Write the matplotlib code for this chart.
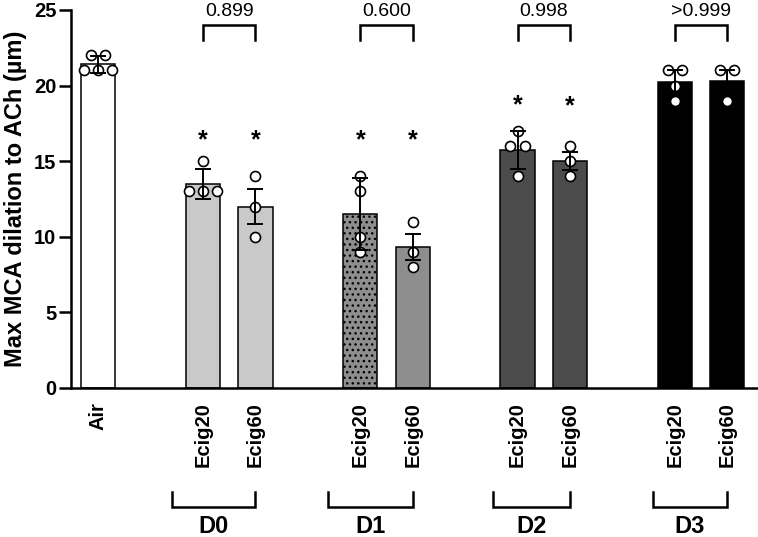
import matplotlib
matplotlib.use("Agg")
import matplotlib.pyplot as plt
import matplotlib.transforms as mtransforms
import numpy as np

plt.rcParams['font.family'] = ['Liberation Sans', 'DejaVu Sans']
plt.rcParams['hatch.linewidth'] = 1.0

# data
tick_labels = ["Air", "Ecig20", "Ecig60", "Ecig20", "Ecig60",
               "Ecig20", "Ecig60", "Ecig20", "Ecig60"]
x_pos = [0, 2, 3, 5, 6, 8, 9, 11, 12]
means = [21.4, 13.5, 12.0, 11.5, 9.33, 15.75, 15.0, 20.25, 20.33]
errs = [0.55, 1.0, 1.15, 2.38, 0.88, 1.27, 0.58, 0.77, 0.67]
points = [[22, 22, 21, 21, 21],
          [15, 13, 13, 13],
          [14, 12, 10],
          [14, 13, 10, 9],
          [11, 9, 8],
          [17, 16, 16, 14],
          [16, 15, 14],
          [21, 21, 20, 19],
          [21, 21, 19]]
bar_colors = ["white", "#c9c9c9", "#c9c9c9", "#8e8e8e", "#8e8e8e",
              "#4b4b4b", "#4b4b4b", "black", "black"]
bar_hatch = ["", "", "", "...", "", "", "", "", ""]

groups = ["D0", "D1", "D2", "D3"]
group_pairs = [(2, 3), (5, 6), (8, 9), (11, 12)]
group_left_pad = [0.59, 0.61, 0.47, 0.42]
p_values = ["0.899", "0.600", "0.998", ">0.999"]

star_x = [2, 3, 5, 6, 8, 9]
star_y = [16.4, 16.4, 16.4, 16.4, 18.7, 18.6]

fig = plt.figure(figsize=(7.58, 5.37), dpi=100)
ax = fig.add_axes([0.0937, 0.2775, 0.905, 0.704])

ax.bar(x_pos, means, width=0.65, color=bar_colors, edgecolor="black",
       linewidth=1.1, hatch=bar_hatch, zorder=1)

# scatter points, spread duplicates sideways
for xc, vals in zip(x_pos, points):
    xs, ys = [], []
    for v in sorted(set(vals), reverse=True):
        n = vals.count(v)
        offs = (np.arange(n) - (n - 1) / 2) * 0.27
        xs += list(xc + offs)
        ys += [v] * n
    ax.plot(xs, ys, 'o', ms=7.2, mfc="white", mec="black", mew=1.2,
            zorder=2, clip_on=False)

ax.errorbar(x_pos, means, yerr=errs, fmt="none", ecolor="black",
            elinewidth=1.4, capsize=6, capthick=1.4, zorder=3)

for sx, sy in zip(star_x, star_y):
    ax.text(sx, sy, "*", ha="center", va="center", fontsize=18,
            fontweight="bold")

# comparison brackets above each pair
for (a, b), p in zip(group_pairs, p_values):
    ax.plot([a, a, b, b], [23, 24, 24, 23], color="black", lw=1.8,
            clip_on=False, solid_joinstyle="miter")
    ax.text((a + b) / 2, 24.6, p, ha="center", va="baseline", fontsize=14)

# group brackets below the axis
trans = mtransforms.blended_transform_factory(ax.transData, ax.transAxes)
for (a, b), pad, g in zip(group_pairs, group_left_pad, groups):
    left = a - pad
    ax.plot([left, left, b, b], [-0.274, -0.316, -0.316, -0.274],
            color="black", lw=1.8, transform=trans, clip_on=False,
            solid_joinstyle="miter")
    ax.text((left + b) / 2, -0.383, g, ha="center", va="baseline",
            fontsize=17, fontweight="bold", transform=trans)

ax.set_xlim(-0.52, 12.57)
ax.set_ylim(0, 25)
ax.set_yticks([0, 5, 10, 15, 20, 25])
ax.set_xticks(x_pos)
ax.set_xticklabels(tick_labels, rotation=90, fontsize=14.5, fontweight="bold")
ax.tick_params(axis="x", length=0, pad=10)
ax.tick_params(axis="y", length=8.5, width=1.8, pad=2, labelsize=14.5)
for lab in ax.get_yticklabels():
    lab.set_fontweight("bold")

ax.set_ylabel("Max MCA dilation to ACh (µm)", fontsize=17,
              fontweight="bold", labelpad=5)

ax.spines["top"].set_visible(False)
ax.spines["right"].set_visible(False)
ax.spines["left"].set_linewidth(1.8)
ax.spines["bottom"].set_linewidth(1.8)

fig.savefig("out.png", dpi=100)
